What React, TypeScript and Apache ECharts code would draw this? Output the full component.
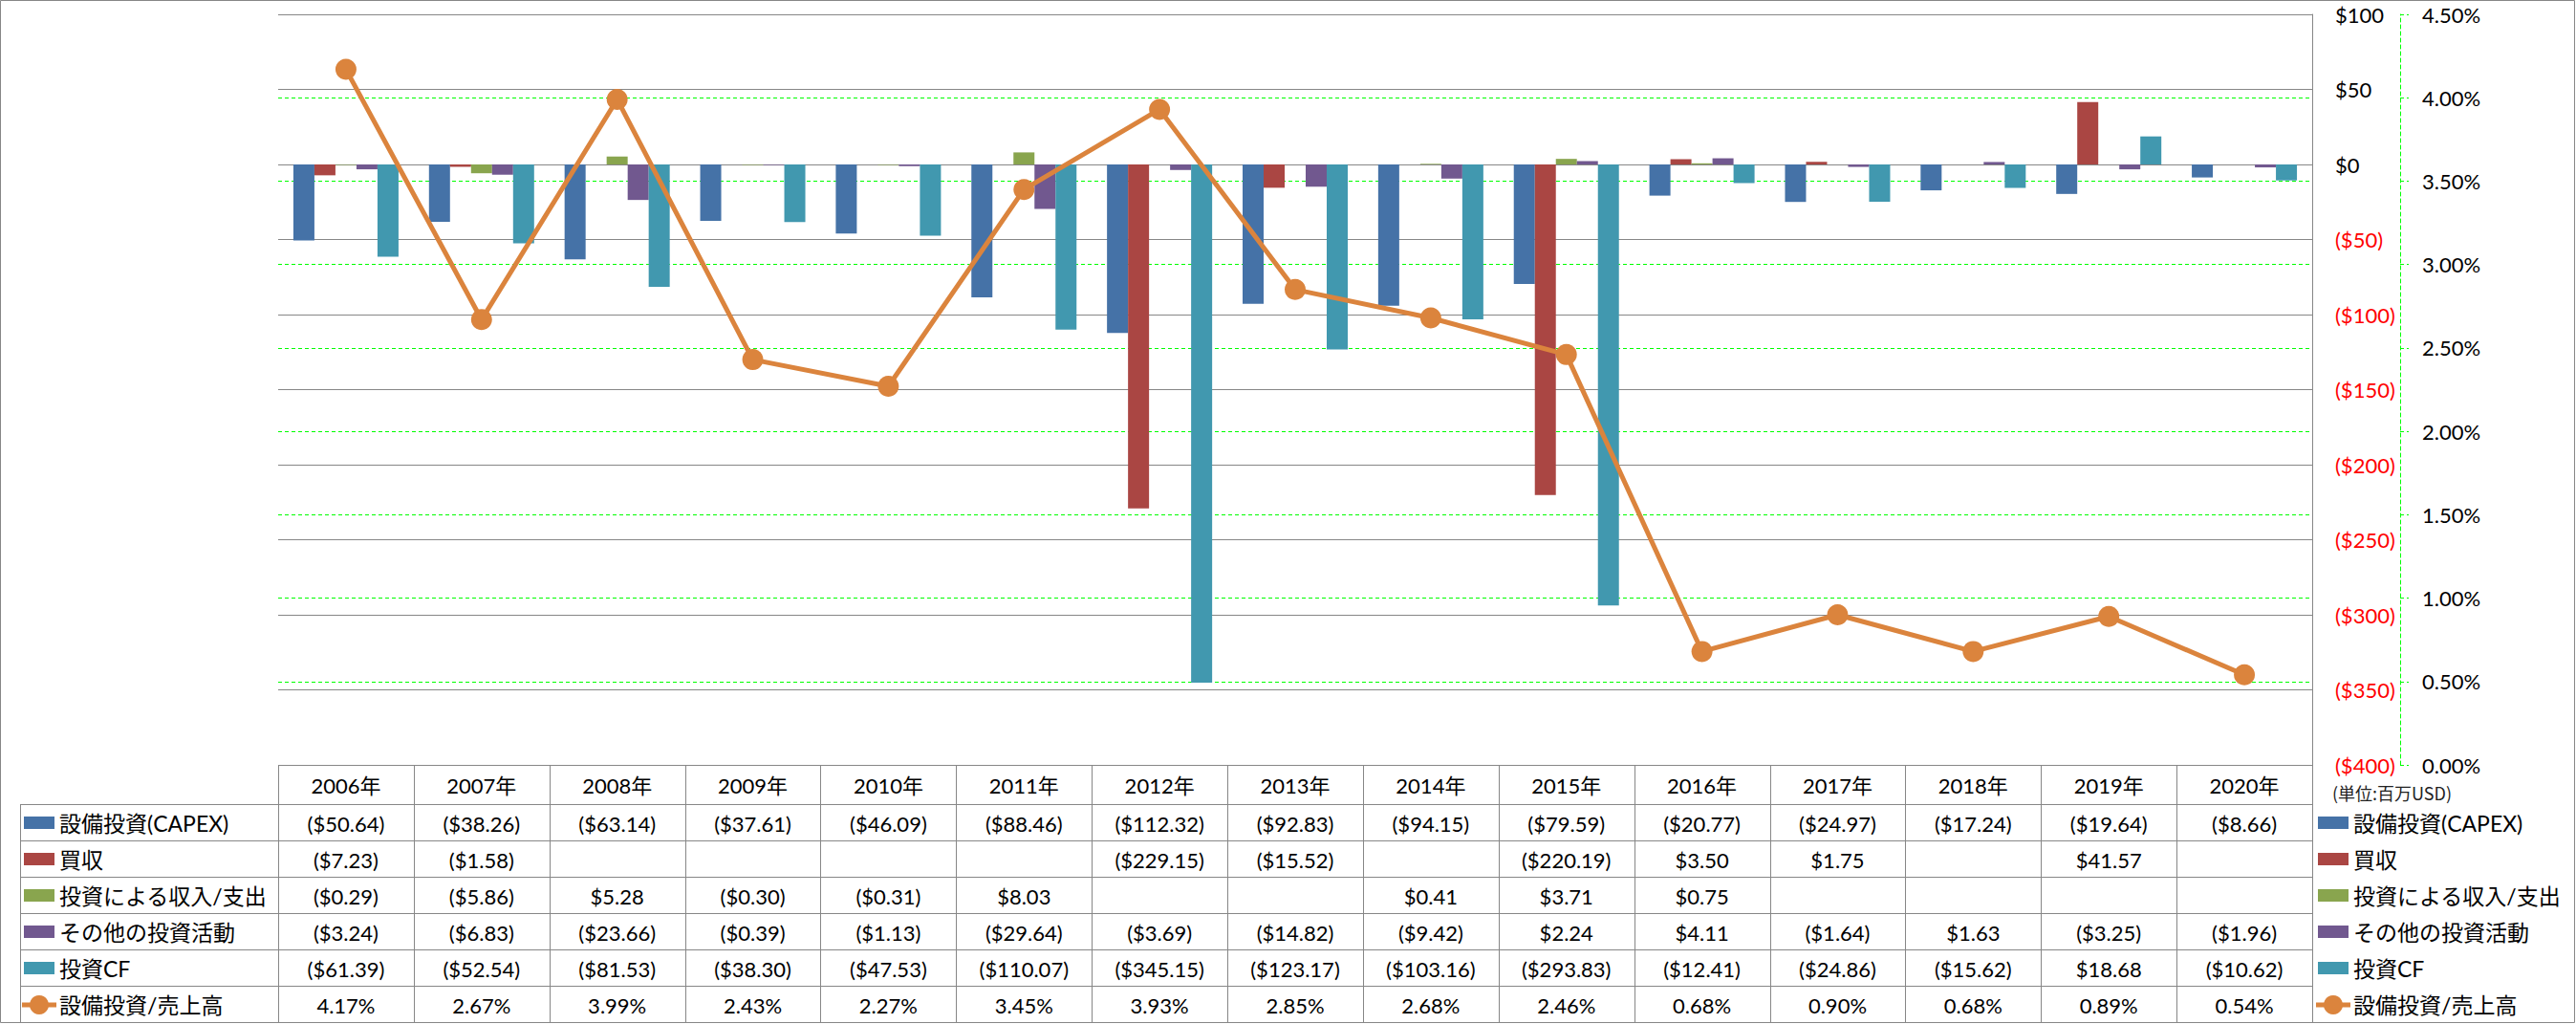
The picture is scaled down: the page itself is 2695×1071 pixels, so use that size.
import React, { useEffect, useRef } from 'react';
import * as echarts from 'echarts';

const CATEGORIES = ['2006年', '2007年', '2008年', '2009年', '2010年', '2011年', '2012年', '2013年', '2014年', '2015年', '2016年', '2017年', '2018年', '2019年', '2020年'];
const CAPEX = [-50.64, -38.26, -63.14, -37.61, -46.09, -88.46, -112.32, -92.83, -94.15, -79.59, -20.77, -24.97, -17.24, -19.64, -8.66];
const ACQUISITION = [-7.23, -1.58, null, null, null, null, -229.15, -15.52, null, -220.19, 3.5, 1.75, null, 41.57, null];
const INVEST_INCOME = [-0.29, -5.86, 5.28, -0.3, -0.31, 8.03, null, null, 0.41, 3.71, 0.75, null, null, null, null];
const OTHER_INVEST = [-3.24, -6.83, -23.66, -0.39, -1.13, -29.64, -3.69, -14.82, -9.42, 2.24, 4.11, -1.64, 1.63, -3.25, -1.96];
const INVEST_CF = [-61.39, -52.54, -81.53, -38.3, -47.53, -110.07, -345.15, -123.17, -103.16, -293.83, -12.41, -24.86, -15.62, 18.68, -10.62];
const CAPEX_RATIO = [4.17, 2.67, 3.99, 2.43, 2.27, 3.45, 3.93, 2.85, 2.68, 2.46, 0.68, 0.9, 0.68, 0.89, 0.54];

const LEFT_AXIS = { min: -400, max: 100, interval: 50 };
const RIGHT_AXIS = { min: 0, max: 4.5, interval: 0.5 };
const UNIT_LABEL = '(単位:百万USD)';

const BAR_SERIES = [
  { name: '設備投資(CAPEX)', data: CAPEX, color: '#4572A7' },
  { name: '買収', data: ACQUISITION, color: '#AA4643' },
  { name: '投資による収入/支出', data: INVEST_INCOME, color: '#89A54E' },
  { name: 'その他の投資活動', data: OTHER_INVEST, color: '#71588F' },
  { name: '投資CF', data: INVEST_CF, color: '#4198AF' },
];
const LINE_SERIES = { name: '設備投資/売上高', data: CAPEX_RATIO, color: '#DB843D' };

const W = 2695;
const H = 1071;
const GL = 291;
const GT = 15;
const GR = 2419;
const GB = 800;
const TABLE_LEFT = 21;
const HEADER_H = 41;
const ROW_H = 38;
const GRID_COLOR = '#878787';
const FONT = "Lato, 'Noto Sans CJK JP', sans-serif";
const FS = 22;
const LABEL_FS = 23;

const fmtDollar = (v: number | null) => {
  if (v === null || v === undefined) return '';
  return v < 0 ? `($${Math.abs(v).toFixed(2)})` : `$${v.toFixed(2)}`;
};
const fmtPct = (v: number | null) => (v === null || v === undefined ? '' : `${v.toFixed(2)}%`);

function buildGraphics() {
  const g: any[] = [];
  const n = CATEGORIES.length;
  const cw = (GR - GL) / n;
  const rows = [...BAR_SERIES.map((s) => ({ ...s, kind: 'bar' })), { ...LINE_SERIES, kind: 'line' }];
  const tableBottom = GB + HEADER_H + ROW_H * rows.length;
  const line = (x1: number, y1: number, x2: number, y2: number, color = GRID_COLOR) => ({
    type: 'line',
    silent: true,
    shape: { x1, y1, x2, y2 },
    style: { stroke: color, lineWidth: 1 },
  });
  // outer border
  g.push({ type: 'rect', silent: true, shape: { x: 0.5, y: 0.5, width: W - 2, height: H - 2 }, style: { fill: 'none', stroke: GRID_COLOR, lineWidth: 1 } });
  // plot top edge and right edge (gray, over green dashes)
  g.push({ ...line(GL, GT + 0.5, GR, GT + 0.5), z: 1 });
  g.push({ ...line(GR + 0.5, GT, GR + 0.5, GB), z: 1 });
  // horizontal lines
  g.push(line(GL, GB + 0.5, GR, GB + 0.5));
  for (let r = 0; r <= rows.length; r++) {
    const y = Math.round(GB + HEADER_H + r * ROW_H) + 0.5;
    g.push(line(TABLE_LEFT, y, GR, y));
  }
  // vertical lines
  g.push(line(TABLE_LEFT + 0.5, GB + HEADER_H, TABLE_LEFT + 0.5, tableBottom));
  for (let k = 0; k <= n; k++) {
    const x = Math.round(GL + k * cw) + 0.5;
    g.push(line(x, GB, x, tableBottom));
  }
  // header texts
  CATEGORIES.forEach((c, i) => {
    g.push({
      type: 'text', silent: true, x: GL + (i + 0.5) * cw, y: GB + HEADER_H / 2 + 1,
      style: { text: c, fill: '#000', fontSize: FS, fontFamily: FONT, align: 'center', verticalAlign: 'middle' },
    });
  });
  // rows
  rows.forEach((s, r) => {
    const cy = GB + HEADER_H + (r + 0.5) * ROW_H + 1;
    const keys = [{ kx: 25, tx: 62 }, { kx: 2425, tx: 2462 }];
    keys.forEach(({ kx, tx }) => {
      if (s.kind === 'bar') {
        g.push({ type: 'rect', silent: true, shape: { x: kx, y: cy - 7, width: 32, height: 13 }, style: { fill: s.color } });
      } else {
        g.push({ type: 'line', silent: true, shape: { x1: kx - 2, y1: cy, x2: kx + 34, y2: cy }, style: { stroke: s.color, lineWidth: 5 } });
        g.push({ type: 'circle', silent: true, shape: { cx: kx + 16, cy, r: 10 }, style: { fill: s.color } });
      }
      g.push({
        type: 'text', silent: true, x: tx, y: cy,
        style: { text: s.name, fill: '#000', fontSize: LABEL_FS, fontFamily: FONT, align: 'left', verticalAlign: 'middle' },
      });
    });
    s.data.forEach((v: number | null, i: number) => {
      const t = s.kind === 'bar' ? fmtDollar(v) : fmtPct(v);
      if (!t) return;
      g.push({
        type: 'text', silent: true, x: GL + (i + 0.5) * cw, y: cy,
        style: { text: t, fill: '#000', fontSize: FS, fontFamily: FONT, align: 'center', verticalAlign: 'middle' },
      });
    });
  });
  // unit label
  g.push({
    type: 'text', silent: true, x: 2440, y: 829,
    style: { text: UNIT_LABEL, fill: '#222', fontSize: 18, fontFamily: "'Noto Sans CJK JP', sans-serif", align: 'left', verticalAlign: 'middle' },
  });
  return g;
}

export default function App() {
  const ref = useRef<HTMLDivElement>(null);
  useEffect(() => {
    if (!ref.current) return;
    const chart = echarts.init(ref.current, undefined, { renderer: 'svg' });
    const greenDash = { color: '#00ff00', width: 1, type: [4, 3] as any };
    chart.setOption({
      animation: false,
      backgroundColor: '#ffffff',
      textStyle: { fontFamily: FONT },
      grid: { left: GL, top: GT, width: GR - GL, height: GB - GT, containLabel: false },
      xAxis: {
        type: 'category',
        data: CATEGORIES,
        axisLine: { show: false },
        axisTick: { show: false },
        axisLabel: { show: false },
        splitLine: { show: false },
      },
      yAxis: [
        {
          type: 'value',
          position: 'right',
          z: 1,
          min: LEFT_AXIS.min,
          max: LEFT_AXIS.max,
          interval: LEFT_AXIS.interval,
          axisLine: { show: true, lineStyle: { color: GRID_COLOR, width: 1 } },
          axisTick: { show: false },
          splitLine: { show: true, lineStyle: { color: GRID_COLOR, width: 1 } },
          axisLabel: {
            margin: 24,
            align: 'left',
            formatter: (v: number) => (v < 0 ? `{neg|($${Math.abs(v)})}` : `{pos|$${v}}`),
            rich: {
              neg: { color: '#ff0000', fontSize: FS, fontFamily: FONT },
              pos: { color: '#000000', fontSize: FS, fontFamily: FONT },
            },
          },
        },
        {
          type: 'value',
          position: 'right',
          offset: 92,
          z: 0,
          min: RIGHT_AXIS.min,
          max: RIGHT_AXIS.max,
          interval: RIGHT_AXIS.interval,
          axisLine: { show: true, lineStyle: greenDash },
          axisTick: { show: true, length: 9, inside: false, lineStyle: greenDash },
          splitLine: { show: true, lineStyle: greenDash },
          axisLabel: {
            margin: 23,
            align: 'left',
            color: '#000',
            fontSize: FS,
            fontFamily: FONT,
            formatter: (v: number) => `${v.toFixed(2)}%`,
          },
        },
      ],
      series: [
        ...BAR_SERIES.map((s) => ({
          name: s.name,
          type: 'bar',
          data: s.data,
          yAxisIndex: 0,
          barWidth: 22,
          barGap: '0%',
          itemStyle: { color: s.color },
        })),
        {
          name: LINE_SERIES.name,
          type: 'line',
          data: LINE_SERIES.data,
          yAxisIndex: 1,
          symbol: 'circle',
          symbolSize: 22,
          lineStyle: { color: LINE_SERIES.color, width: 5 },
          itemStyle: { color: LINE_SERIES.color },
          z: 5,
        },
      ],
      graphic: buildGraphics(),
    });
    return () => chart.dispose();
  }, []);
  return <div ref={ref} style={{ position: 'fixed', left: 0, top: 0, width: W, height: H, background: '#fff' }} />;
}
